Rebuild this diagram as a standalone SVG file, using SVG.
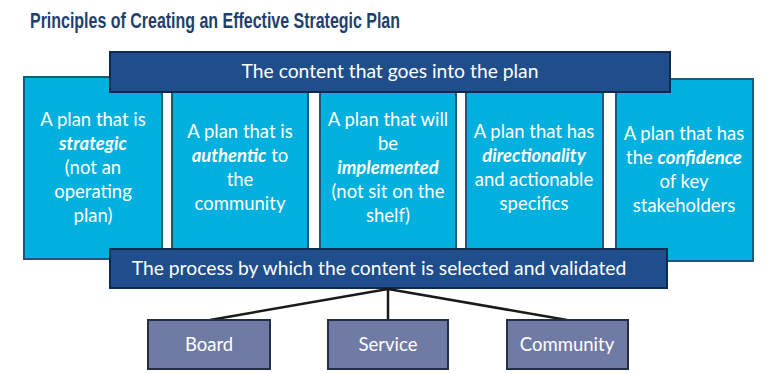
<svg xmlns="http://www.w3.org/2000/svg" width="769" height="374" viewBox="0 0 769 374">
<style>
.title{font-family:"Liberation Sans",Arial,sans-serif;font-weight:bold;font-size:22.5px;fill:#1f3f6e}
.box{fill:#00b0df;stroke:#1d5a75;stroke-width:2}
.bar{fill:#1f4e8d;stroke:#0e2a4e;stroke-width:2}
.sub{fill:#6f7ba4;stroke:#252e48;stroke-width:2}
.t{font-family:Lato,"Open Sans",sans-serif;font-size:18.5px;fill:#ffffff;text-anchor:middle}
.bt{font-size:19.3px}
.b{font-weight:bold;font-style:italic}
.con{stroke:#1a1a1a;stroke-width:2.5;fill:none}
</style>
<rect width="769" height="374" fill="#ffffff"/>
<text class="title" x="30" y="28" textLength="370" lengthAdjust="spacingAndGlyphs">Principles of Creating an Effective Strategic Plan</text>
<g id="p2"><rect class="box" x="172" y="88" width="136" height="166"/>
<text class="t"><tspan x="240" y="138">A plan that is</tspan><tspan x="240" y="162"><tspan class="b">authentic</tspan> to</tspan><tspan x="240" y="186">the</tspan><tspan x="240" y="210">community</tspan></text></g>
<g id="p3"><rect class="box" x="320" y="88" width="136" height="166"/>
<text class="t"><tspan x="388" y="126">A plan that will</tspan><tspan x="388" y="150">be</tspan><tspan x="388" y="174" class="b">implemented</tspan><tspan x="388" y="198">(not sit on the</tspan><tspan x="388" y="222">shelf)</tspan></text></g>
<g id="p4"><rect class="box" x="466" y="88" width="137" height="166"/>
<text class="t"><tspan x="534" y="138">A plan that has</tspan><tspan x="534" y="162" class="b">directionality</tspan><tspan x="534" y="186">and actionable</tspan><tspan x="534" y="210">specifics</tspan></text></g>
<g id="p1"><rect class="box" x="24" y="77" width="138" height="182"/>
<text class="t"><tspan x="93" y="126">A plan that is</tspan><tspan x="93" y="150" class="b">strategic</tspan><tspan x="93" y="174">(not an</tspan><tspan x="93" y="198">operating</tspan><tspan x="93" y="222">plan)</tspan></text></g>
<g id="p5"><rect class="box" x="616" y="79" width="137" height="182"/>
<text class="t"><tspan x="684" y="140">A plan that has</tspan><tspan x="684" y="164">the <tspan class="b">confidence</tspan></tspan><tspan x="684" y="188">of key</tspan><tspan x="684" y="212">stakeholders</tspan></text></g>
<g id="content"><rect class="bar" x="110" y="52" width="560" height="40"/>
<text class="t bt" x="390" y="78">The content that goes into the plan</text></g>
<g id="process"><rect class="bar" x="110" y="249" width="557" height="39"/>
<text class="t bt" x="379" y="275">The process by which the content is selected and validated</text></g>
<g id="connectors">
<line class="con" x1="388" y1="289" x2="210" y2="320"/>
<line class="con" x1="388" y1="289" x2="388" y2="320"/>
<line class="con" x1="388" y1="289" x2="567" y2="320"/>
</g>
<g id="board"><rect class="sub" x="148" y="320" width="122" height="49"/><text class="t" x="209" y="351">Board</text></g>
<g id="service"><rect class="sub" x="328" y="320" width="120" height="49"/><text class="t" x="388" y="351">Service</text></g>
<g id="community"><rect class="sub" x="507" y="320" width="121" height="49"/><text class="t" x="567" y="351">Community</text></g>
</svg>
